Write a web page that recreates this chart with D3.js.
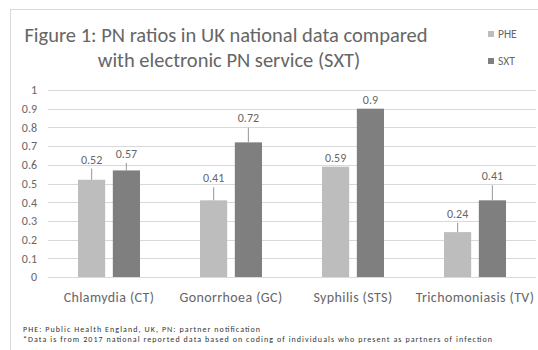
<!DOCTYPE html>
<html lang="en">
<head>
<meta charset="utf-8">
<title>PN ratios</title>
<script src="https://d3js.org/d3.v7.min.js"></script>
<style>
  body { margin: 0; background: #fff; }
  text { font-family: Calibri, Carlito, Lato, sans-serif; }
</style>
</head>
<body>
<script>
// data
const categories = ["Chlamydia (CT)", "Gonorrhoea (GC)", "Syphilis (STS)", "Trichomoniasis (TV)"];
const series = ["PHE", "SXT"];
const phe = [0.52, 0.41, 0.59, 0.24];
const sxt = [0.57, 0.72, 0.90, 0.41];
const pheErr = [0.58, 0.48, null, 0.29];   // top of upper error bar
const sxtErr = [0.61, 0.80, null, 0.49];
const yTicks = [0, 0.1, 0.2, 0.3, 0.4, 0.5, 0.6, 0.7, 0.8, 0.9, 1];

const w = 538, h = 350;
const colors = { PHE: "#bdbdbd", SXT: "#7f7f7f" };
const textCol = "#666";

const svg = d3.select("body").append("svg")
  .attr("width", w).attr("height", h);

// outer frame
svg.append("rect")
  .attr("x", 10.5).attr("y", 9.5)
  .attr("width", 540).attr("height", 360)
  .attr("fill", "none").attr("stroke", "#d9d9d9");

const pLeft = 48, pRight = 536, pTop = 90, pBottom = 277;

const x = d3.scaleBand().domain(categories).range([pLeft, pRight]);
const xs = d3.scaleBand().domain(series).range([0, 62]).paddingInner(0.22);
const y = d3.scaleLinear().domain([0, 1]).range([pBottom, pTop]);

// gridlines
svg.append("g").selectAll("line")
  .data(yTicks).join("line")
  .attr("x1", pLeft).attr("x2", pRight)
  .attr("y1", d => Math.round(y(d)) + 0.5).attr("y2", d => Math.round(y(d)) + 0.5)
  .attr("stroke", "#d9d9d9");

// y axis labels
const yAxis = d3.axisLeft(y).tickValues(yTicks).tickSize(0).tickPadding(0)
  .tickFormat(d => d3.format("")(+d.toFixed(1)));
const gy = svg.append("g").attr("transform", "translate(37,0)").call(yAxis);
gy.select(".domain").remove();
gy.selectAll("text").attr("fill", textCol).attr("font-size", 12)
  .attr("font-family", "Calibri, Carlito, Lato, sans-serif");

// bars
const rows = categories.map((c, i) => [
  { cat: c, s: "PHE", v: phe[i], e: pheErr[i] },
  { cat: c, s: "SXT", v: sxt[i], e: sxtErr[i] }
]).flat();

const bx = d => x(d.cat) + (x.bandwidth() - 62) / 2 + xs(d.s);

svg.append("g").selectAll("rect")
  .data(rows).join("rect")
  .attr("x", bx)
  .attr("y", d => y(d.v))
  .attr("width", xs.bandwidth())
  .attr("height", d => y(0) - y(d.v))
  .attr("fill", d => colors[d.s]);

// error bars (upper half)
svg.append("g").selectAll("line")
  .data(rows.filter(d => d.e != null)).join("line")
  .attr("x1", d => bx(d) + xs.bandwidth() / 2)
  .attr("x2", d => bx(d) + xs.bandwidth() / 2)
  .attr("y1", d => y(d.v))
  .attr("y2", d => y(d.e))
  .attr("stroke", "#a6a6a6").attr("stroke-width", 1.2);

// value labels
svg.append("g").selectAll("text")
  .data(rows).join("text")
  .attr("x", d => bx(d) + xs.bandwidth() / 2)
  .attr("y", d => y(d.e != null ? d.e : d.v) - 5)
  .attr("text-anchor", "middle")
  .attr("font-size", 12)
  .attr("fill", textCol)
  .text(d => d.v);

// category labels
svg.append("g").selectAll("text")
  .data(categories).join("text")
  .attr("x", d => x(d) + x.bandwidth() / 2)
  .attr("y", 302)
  .attr("text-anchor", "middle")
  .attr("font-size", 14)
  .attr("letter-spacing", 0.4)
  .attr("fill", textCol)
  .text(d => d);

// title
svg.append("text")
  .attr("x", 226).attr("y", 42)
  .attr("text-anchor", "middle")
  .attr("font-size", 20.5).attr("fill", textCol)
  .text("Figure 1: PN ratios in UK national data compared");
svg.append("text")
  .attr("x", 229).attr("y", 67)
  .attr("text-anchor", "middle")
  .attr("font-size", 20.5).attr("fill", textCol)
  .text("with electronic PN service (SXT)");

// legend
const lg = svg.append("g").selectAll("g")
  .data(series).join("g")
  .attr("transform", (d, i) => `translate(488,${30 + i * 27})`);
lg.append("rect").attr("width", 6).attr("height", 6).attr("y", 1)
  .attr("fill", d => colors[d]);
lg.append("text").attr("x", 10).attr("y", 8)
  .attr("font-size", 11.5).attr("fill", textCol)
  .text(d => d);

// footnotes
svg.append("text").attr("x", 23).attr("y", 332)
  .attr("font-size", 8).attr("fill", "#333")
  .attr("textLength", 237).attr("lengthAdjust", "spacing")
  .text("PHE: Public Health England,  UK, PN: partner  notification");
svg.append("text").attr("x", 23).attr("y", 342)
  .attr("font-size", 8).attr("fill", "#333")
  .attr("textLength", 469).attr("lengthAdjust", "spacing")
  .text("*Data  is from 2017 national reported  data based on coding of individuals who present  as partners of infection");
</script>
</body>
</html>
